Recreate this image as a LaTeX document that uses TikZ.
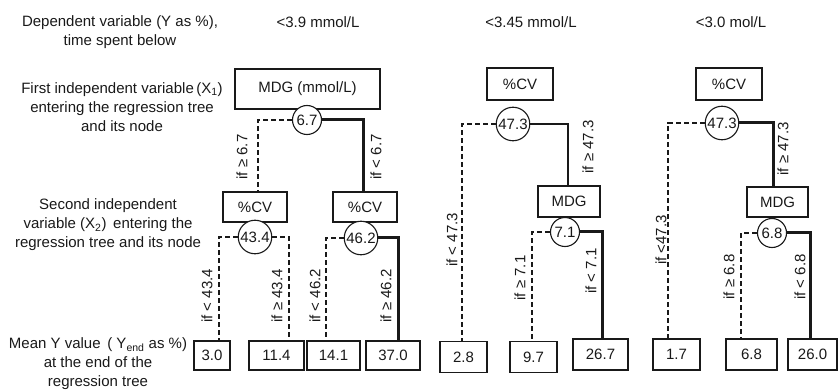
\documentclass[tikz,border=0pt]{standalone}
\usepackage{fontspec}
\setmainfont{Liberation Sans}
\begin{document}
\begin{tikzpicture}[x=1pt,y=-1pt,
  font=\fontsize{15}{19}\selectfont, color={black!90},
  box/.style={draw, line width=1.2pt, inner sep=0pt},
  circ/.style={draw, circle, line width=1.1pt, inner sep=1pt, minimum size=29pt, fill=white},
  dsh/.style={line width=2.2pt, dash pattern=on 5pt off 3pt},
  thk/.style={line width=3pt},
  thn/.style={line width=1.5pt},
  lbl/.style={rotate=90, inner sep=0pt},
  side/.style={align=center, inner sep=0pt}]
\useasboundingbox (0,0) rectangle (838,390);

% left column
\node[side] (t1) at (120,32) {Dependent variable (Y as \%),\\time spent below};
\node[side] (t2) at (122,107) {First independent variable\,(X\textsubscript{1})\\entering the regression tree\\and its node};
\node[side] (t3) at (108,225) {Second independent\\variable (X\textsubscript{2})\, entering the\\regression tree and its node};
\node[side] (t4) at (98,364) {Mean Y value\, ( Y\textsubscript{end} as \%)\\at the end of the\\regression tree};

% headers
\node[inner sep=0pt] (h1) at (318,22) {<3.9 mmol/L};
\node[inner sep=0pt] (h2) at (531,22) {<3.45 mmol/L};
\node[inner sep=0pt] (h3) at (731,22) {<3.0 mol/L};

% ---------- tree 1
\node[box, minimum width=145pt, minimum height=40pt] (r1) at (307.5,89) {MDG (mmol/L)};
\node[circ] (c1) at (307,120) {6.7};
\node[box, minimum width=64pt, minimum height=30pt] (a1) at (255,207) {\%CV};
\node[box, minimum width=64pt, minimum height=30pt] (a2) at (365,207) {\%CV};
\node[circ] (c2) at (255,237) {43.4};
\node[circ] (c3) at (361,238) {46.2};
\node[box, minimum width=36pt, minimum height=29pt] (l1) at (212,355.5) {3.0};
\node[box, minimum width=55pt, minimum height=29pt] (l2) at (276.5,355.5) {11.4};
\node[box, minimum width=53pt, minimum height=29pt] (l3) at (333.5,355.5) {14.1};
\node[box, minimum width=54pt, minimum height=29pt] (l4) at (393,355.5) {37.0};

\draw[dsh] (c1.west) -| ([xshift=3pt]a1.north);
\draw[thk] (c1.east) -| ([xshift=-2pt]a2.north);
\draw[dsh] (c2.west) -| ([xshift=7pt]l1.north);
\draw[dsh] (c2.east) -| ([xshift=12.5pt]l2.north);
\draw[dsh] (c3.west) -| ([xshift=-7.5pt]l3.north);
\draw[thk] (c3.east) -| ([xshift=5pt]l4.north);

\node[lbl] (q1) at (242,157) {if ≥ 6.7};
\node[lbl] (q2) at (376,157) {if < 6.7};
\node[lbl] (q3) at (207,296) {if < 43.4};
\node[lbl] (q4) at (277,296) {if ≥ 43.4};
\node[lbl] (q5) at (315,296) {if < 46.2};
\node[lbl] (q6) at (386,296) {if ≥ 46.2};

% ---------- tree 2
\node[box, minimum width=66pt, minimum height=32pt] (r2) at (520,84) {\%CV};
\node[circ] (c4) at (513,124) {47.3};
\node[box, minimum width=62pt, minimum height=31pt] (m1) at (569,201.5) {MDG};
\node[circ] (c5) at (565,232) {7.1};
\node[box, minimum width=47pt, minimum height=31pt] (l5) at (463.5,357) {2.8};
\node[box, minimum width=47pt, minimum height=31pt] (l6) at (533.5,357) {9.7};
\node[box, minimum width=55pt, minimum height=31pt] (l7) at (600.5,354.5) {26.7};

\draw[dsh] (c4.west) -| ([xshift=-1.5pt]l5.north);
\draw[thn] (c4.east) -| ([xshift=-1pt]m1.north);
\draw[dsh] (c5.west) -| ([xshift=-1.5pt]l6.north);
\draw[thk] (c5.east) -| ([xshift=1.5pt]l7.north);

\node[lbl] (q7) at (588,147) {if ≥ 47.3};
\node[lbl] (q8) at (452,240) {if < 47.3};
\node[lbl] (q9) at (520,278) {if ≥ 7.1};
\node[lbl] (q10) at (591,271) {if < 7.1};

% ---------- tree 3
\node[box, minimum width=66pt, minimum height=32pt] (r3) at (729,84) {\%CV};
\node[circ] (c6) at (722,123) {47.3};
\node[box, minimum width=61pt, minimum height=30pt] (m2) at (777.5,202) {MDG};
\node[circ] (c7) at (772,233) {6.8};
\node[box, minimum width=47pt, minimum height=31pt] (l8) at (676.5,354.5) {1.7};
\node[box, minimum width=51pt, minimum height=31pt] (l9) at (751.5,354.5) {6.8};
\node[box, minimum width=49pt, minimum height=31pt] (l10) at (812.5,354.5) {26.0};

\draw[dsh] (c6.west) -| ([xshift=-8.5pt]l8.north);
\draw[thk] (c6.east) -| ([xshift=-4.5pt]m2.north);
\draw[dsh] (c7.west) -| ([xshift=-10.5pt]l9.north);
\draw[thk] (c7.east) -| ([xshift=-2.5pt]l10.north);

\node[lbl] (q11) at (783,149) {if ≥ 47.3};
\node[lbl] (q12) at (661,240) {if <47.3};
\node[lbl] (q13) at (729,277) {if ≥ 6.8};
\node[lbl] (q14) at (800,277) {if < 6.8};
\end{tikzpicture}
\end{document}
